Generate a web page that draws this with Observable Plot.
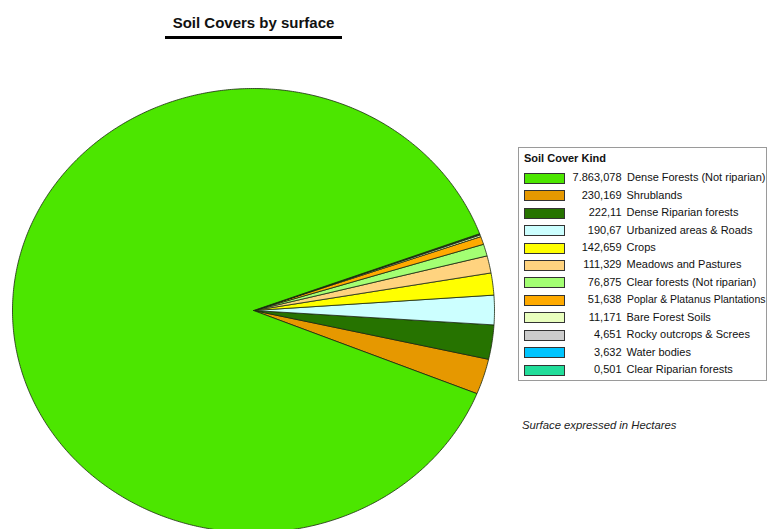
<!DOCTYPE html>
<html>
<head>
<meta charset="utf-8">
<script src="https://cdn.jsdelivr.net/npm/d3@7"></script>
<script src="https://cdn.jsdelivr.net/npm/@observablehq/plot@0.6"></script>
<style>
  html, body { margin: 0; padding: 0; background: #fff; }
  #wrap { position: relative; width: 768px; height: 529px; overflow: hidden; font-family: "Liberation Sans", Arial, sans-serif; }
  #chart { position: absolute; left: 0; top: 0; }
  #title { position: absolute; left: 165px; width: 177px; top: 14px; text-align: center; font-size: 15px; font-weight: bold; color: #111; white-space: nowrap; }
  #uline { position: absolute; left: 165px; width: 177px; top: 36px; height: 3px; background: #000; }
  #legend { position: absolute; left: 518px; top: 147px; width: 249px; height: 234px; border: 1px solid #9a9a9a; box-sizing: border-box; }
  #note { position: absolute; left: 522px; top: 419px; font-size: 11.3px; font-style: italic; color: #222; white-space: nowrap; }
</style>
</head>
<body>
<div id="wrap">
  <div id="chart"></div>
  <div id="title">Soil Covers by surface</div>
  <div id="uline"></div>
  <div id="legend"></div>
  <div id="note">Surface expressed in Hectares</div>
</div>
<script>
// ---- data ----
const categories = [
  "Dense Forests (Not riparian)",
  "Shrublands",
  "Dense Riparian forests",
  "Urbanized areas & Roads",
  "Crops",
  "Meadows and Pastures",
  "Clear forests (Not riparian)",
  "Poplar & Platanus Plantations",
  "Bare Forest Soils",
  "Rocky outcrops & Screes",
  "Water bodies",
  "Clear Riparian forests"
];
const values = [7863.078, 230.169, 222.11, 190.67, 142.659, 111.329, 76.875, 51.638, 11.171, 4.651, 3.632, 0.501];
const valueLabels = ["7.863,078", "230,169", "222,11", "190,67", "142,659", "111,329", "76,875", "51,638", "11,171", "4,651", "3,632", "0,501"];
const colors = ["#4ce600", "#e69800", "#267300", "#ccffff", "#ffff00", "#ffd37f", "#a3ff73", "#ffaa00", "#e9ffbe", "#cccccc", "#00c5ff", "#22dd9a"];
const legendTitle = "Soil Cover Kind";

// ---- pie geometry (angles from data) ----
const total = d3.sum(values);
const startDeg = -22; // first small slice (Shrublands) starts below the horizontal on the right
const order = [1, 2, 3, 4, 5, 6, 7, 8, 9, 10, 11, 0];
const pts = [];
let a = startDeg;
for (const i of order) {
  const span = values[i] / total * 360;
  const a0 = a, a1 = a + span;
  const n = Math.max(2, Math.ceil(span / 0.5));
  pts.push({name: categories[i], color: colors[i], x: 0, y: 0});
  for (let k = 0; k <= n; k++) {
    const t = (a0 + (a1 - a0) * k / n) * Math.PI / 180;
    pts.push({name: categories[i], color: colors[i], x: Math.cos(t), y: Math.sin(t)});
  }
  pts.push({name: categories[i], color: colors[i], x: 0, y: 0});
  a = a1;
}

const plot = Plot.plot({
  width: 768,
  height: 529,
  margin: 0,
  x: {domain: [-1, 1], range: [12, 494], axis: null},
  y: {domain: [-1, 1], range: [532, 88], axis: null},
  color: {type: "identity"},
  marks: [
    Plot.line(pts, {x: "x", y: "y", z: "name", fill: "color", stroke: "#1b2a10", strokeWidth: 0.8, strokeLinejoin: "round", curve: "linear"})
  ]
});
document.getElementById("chart").appendChild(plot);

// ---- legend ----
const lg = d3.select("#legend");
lg.append("div")
  .style("position", "absolute").style("left", "5px").style("top", "4px")
  .style("font-size", "11px").style("font-weight", "bold").style("color", "#111")
  .text(legendTitle);
categories.forEach((c, i) => {
  const cy = 177.3 + i * 17.43 - 147;
  lg.append("div")
    .style("position", "absolute").style("left", "5px").style("top", (cy - 5.5) + "px")
    .style("width", "41px").style("height", "11px").style("box-sizing", "border-box")
    .style("border", "1px solid #333").style("background", colors[i]);
  lg.append("div")
    .style("position", "absolute").style("right", (249 - 104.5) + "px").style("top", (cy - 7) + "px")
    .style("font-size", "11px").style("color", "#111").style("white-space", "nowrap")
    .text(valueLabels[i]);
  const nm = lg.append("div")
    .style("position", "absolute").style("left", "107.5px").style("top", (cy - 7) + "px")
    .style("font-size", "11px").style("color", "#111").style("white-space", "nowrap")
    .style("transform-origin", "0 50%")
    .text(c);
  const w = nm.node().getBoundingClientRect().width;
  const maxW = 138.5;
  if (w > maxW) nm.style("transform", `scaleX(${maxW / w})`);
});
</script>
</body>
</html>
